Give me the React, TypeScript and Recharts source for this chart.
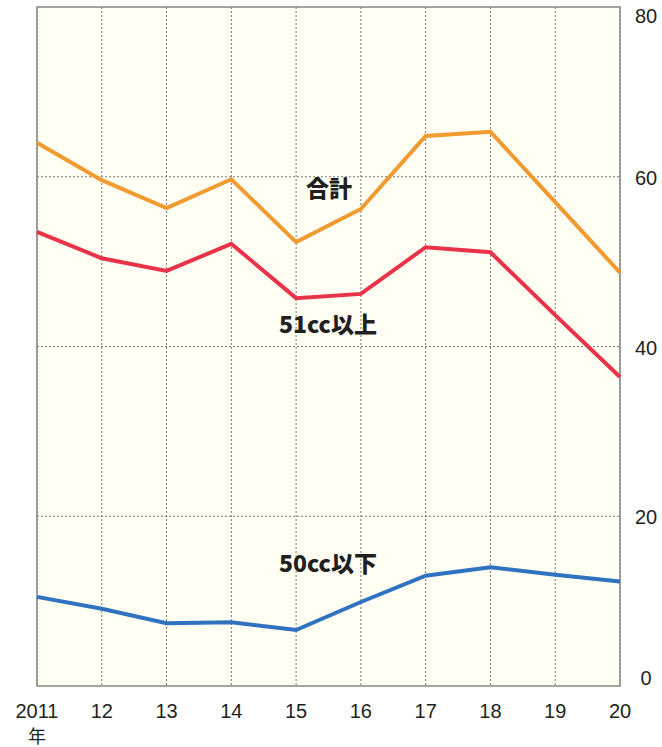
import React from 'react';
import { LineChart, Line, XAxis, YAxis, CartesianGrid, ReferenceArea } from 'recharts';

const years: string[] = ['2011', '12', '13', '14', '15', '16', '17', '18', '19', '20'];
const total: number[] = [64.0, 59.6, 56.3, 59.7, 52.3, 56.2, 64.8, 65.3, 57.0, 48.7];
const over51: number[] = [53.5, 50.4, 48.9, 52.1, 45.7, 46.2, 51.7, 51.1, 43.7, 36.4];
const under50: number[] = [10.5, 9.1, 7.4, 7.5, 6.6, 9.9, 13.0, 14.0, 13.1, 12.3];
const yTicks: number[] = [0, 20, 40, 60, 80];

const data = years.map((y, i) => ({
  year: y,
  total: total[i],
  over51: over51[i],
  under50: under50[i],
}));

const tickFont = '"Liberation Sans", Arial, sans-serif';
const labelFont = '"Noto Sans CJK JP", "Noto Sans", sans-serif';

// x labels, "年" goes under the first year
const XTick = ({ x, y, payload }: any) => (
  <g>
    <text x={x} y={y + 24} textAnchor="middle" fontSize={20} fontFamily={tickFont} fill="#231f20">
      {payload.value}
    </text>
    {payload.value === '2011' && (
      <text x={x} y={y + 49} textAnchor="middle" fontSize={18} fontFamily={labelFont} fill="#231f20">
        年
      </text>
    )}
  </g>
);

const YTick = ({ x, y, payload }: any) => {
  const cy = Math.max(16, Math.min(678, y + 1));
  return (
    <text x={x + 18} y={cy + 7} textAnchor="middle" fontSize={20} fontFamily={tickFont} fill="#231f20">
      {payload.value}
    </text>
  );
};

const SeriesLabel = ({ text, left, top }: { text: string; left: number; top: number }) => (
  <span
    style={{
      position: 'absolute',
      left,
      top,
      transform: 'translate(-50%, -50%)',
      fontFamily: labelFont,
      fontWeight: 900,
      fontSize: 23,
      lineHeight: 1,
      color: '#231f20',
      whiteSpace: 'nowrap',
    }}
  >
    {text}
  </span>
);

const App: React.FC = () => {
  return (
    <div style={{ position: 'absolute', left: 0, top: 0, width: 662, height: 747, background: '#fff' }}>
      <LineChart width={662} height={747} data={data} margin={{ top: 7, right: 0, left: 37, bottom: 0 }}>
        <CartesianGrid
          fill="#fffef3"
          stroke="#777"
          strokeDasharray="2 2"
          horizontalValues={[20, 40, 60]}
        />
        <XAxis
          dataKey="year"
          height={61}
          tick={<XTick />}
          tickLine={false}
          axisLine={false}
          interval={0}
        />
        <YAxis
          orientation="right"
          width={42}
          domain={[0, 80]}
          ticks={yTicks}
          tick={<YTick />}
          tickLine={false}
          axisLine={false}
        />
        <ReferenceArea x1="2011" x2="20" y1={0} y2={80} fill="none" stroke="#8a8580" strokeWidth={1.5} />
        <Line dataKey="total" stroke="#f09a30" strokeWidth={4} dot={false} isAnimationActive={false} />
        <Line dataKey="over51" stroke="#e8334a" strokeWidth={4} dot={false} isAnimationActive={false} />
        <Line dataKey="under50" stroke="#2f72c0" strokeWidth={4} dot={false} isAnimationActive={false} />
      </LineChart>
      <SeriesLabel text="合計" left={329} top={187} />
      <SeriesLabel text="51cc以上" left={328} top={323} />
      <SeriesLabel text="50cc以下" left={328} top={562} />
    </div>
  );
};

export default App;
